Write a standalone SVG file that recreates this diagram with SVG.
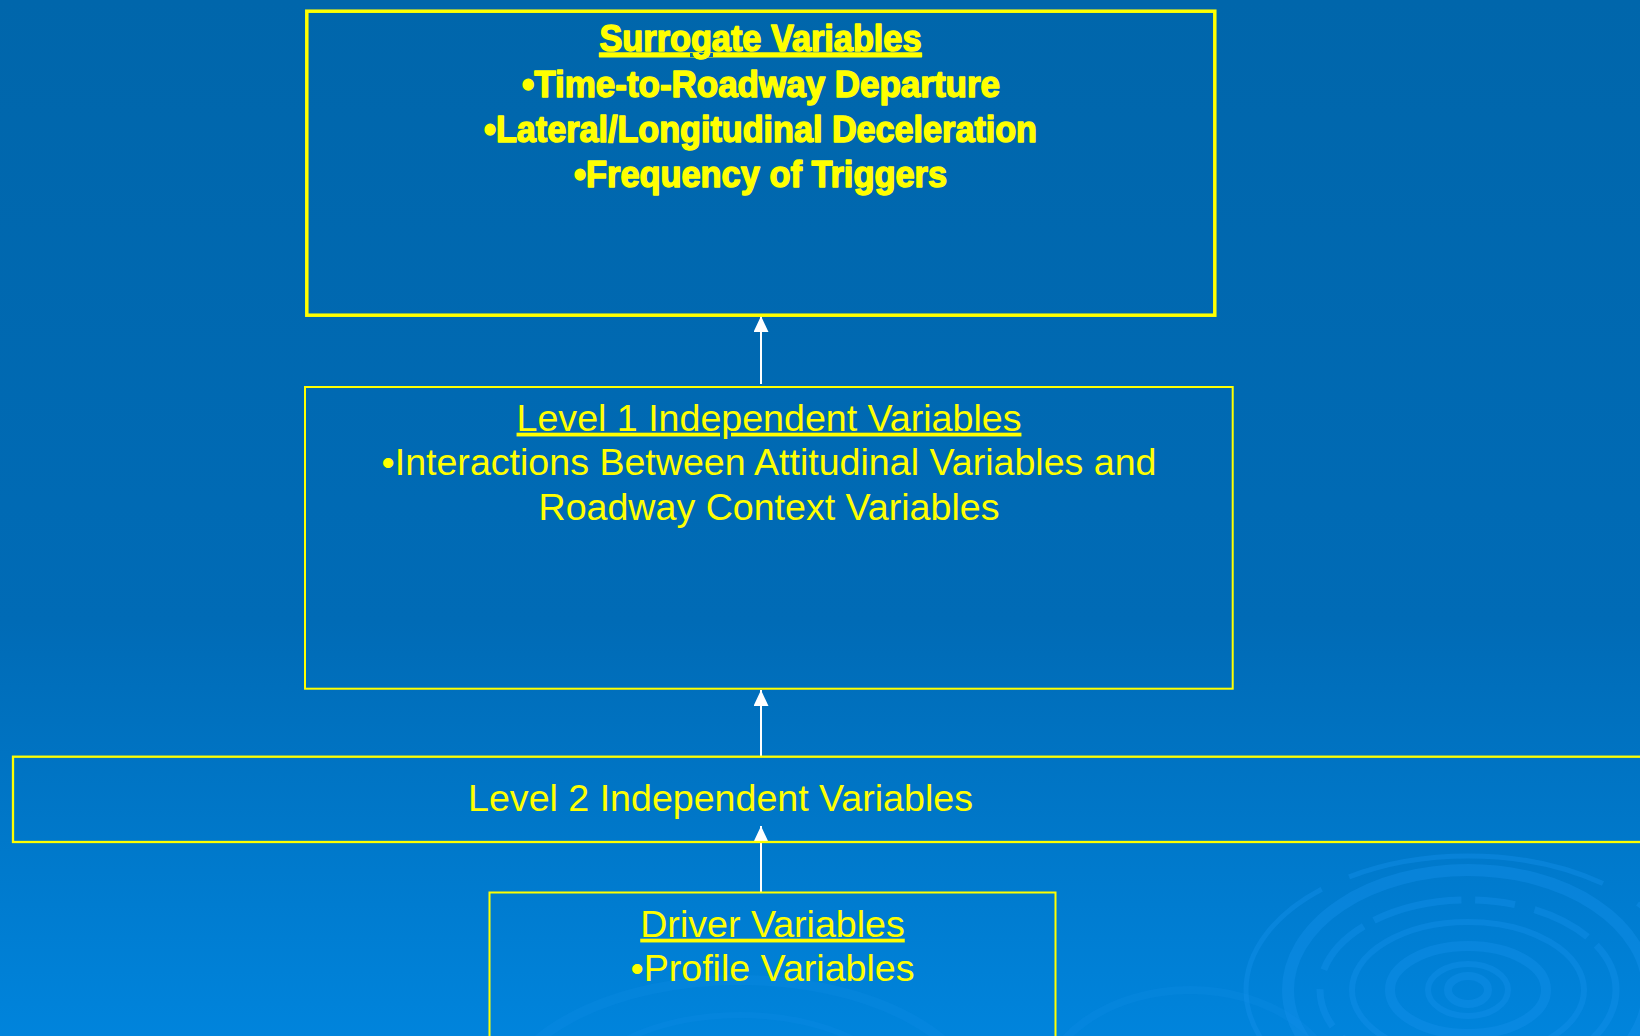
<svg xmlns="http://www.w3.org/2000/svg" width="1640" height="1036" viewBox="0 0 1640 1036">
  <defs>
    <linearGradient id="bg" x1="0" y1="0" x2="0" y2="1">
      <stop offset="0" stop-color="#0066ab"/>
      <stop offset="0.6" stop-color="#006bb6"/>
      <stop offset="1" stop-color="#0084dc"/>
    </linearGradient>
    <marker id="arrow" markerUnits="userSpaceOnUse" markerWidth="16" markerHeight="15" refX="16" refY="7.5" orient="auto">
      <path d="M0,0 L16,7.5 L0,15 Z" fill="#ffffff"/>
    </marker>
    <style>
      .box { fill: none; stroke: #ffff00; }
      .t { font-family: "Liberation Sans", Arial, sans-serif; fill: #ffff00; text-anchor: middle; font-size: 37.6px; }
      .tb { font-size: 37px; font-weight: bold; stroke: #ffff00; stroke-width: 1.5; stroke-linejoin: round; }
      .u { text-decoration: underline; }
      .ring { fill: none; stroke: #1590ea; stroke-opacity: 0.4; }
      .faint { fill: none; stroke: #1590ea; stroke-opacity: 0.2; }
      .link { stroke: #ffffff; stroke-width: 2; fill: none; }
    </style>
  </defs>

  <!-- background -->
  <rect x="0" y="0" width="1640" height="1036" fill="url(#bg)"/>

  <!-- decorative ripple rings, lower right -->
  <g id="ripples">
    <ellipse class="ring" cx="1468" cy="990" rx="20" ry="14" stroke-width="8"/>
    <ellipse class="ring" cx="1468" cy="990" rx="40" ry="26" stroke-width="6"/>
    <ellipse class="ring" cx="1468" cy="990" rx="78" ry="44" stroke-width="10"/>
    <ellipse class="ring" cx="1468" cy="990" rx="116" ry="68" stroke-width="6"/>
    <ellipse class="ring" cx="1468" cy="990" rx="148" ry="90" stroke-width="7" stroke-dasharray="90 14 40 20 60 12"/>
    <ellipse class="ring" cx="1468" cy="990" rx="180" ry="120" stroke-width="12"/>
    <ellipse class="ring" cx="1468" cy="990" rx="222" ry="134" stroke-width="5" stroke-dasharray="260 40 400 30"/>
    <!-- faint rings, lower middle -->
    <ellipse class="faint" cx="740" cy="1110" rx="240" ry="130" stroke-width="10"/>
    <ellipse class="faint" cx="740" cy="1110" rx="170" ry="95" stroke-width="6"/>
    <ellipse class="faint" cx="1190" cy="1100" rx="150" ry="110" stroke-width="8"/>
  </g>

  <!-- connectors -->
  <g id="connectors">
    <line class="link" x1="761" y1="384" x2="761" y2="316" marker-end="url(#arrow)"/>
    <line class="link" x1="761" y1="756" x2="761" y2="690" marker-end="url(#arrow)"/>
    <line class="link" x1="761" y1="892" x2="761" y2="826" marker-end="url(#arrow)"/>
  </g>

  <!-- surrogate variables -->
  <g id="surrogate">
    <rect class="box" x="306.8" y="11.2" width="908" height="304" stroke-width="3.5"/>
    <text class="t tb u" x="760.5" y="51" textLength="322" lengthAdjust="spacingAndGlyphs">Surrogate Variables</text>
    <text class="t tb" x="761" y="96.5" textLength="478" lengthAdjust="spacingAndGlyphs">•Time-to-Roadway Departure</text>
    <text class="t tb" x="760.5" y="141.5" textLength="553" lengthAdjust="spacingAndGlyphs">•Lateral/Longitudinal Deceleration</text>
    <text class="t tb" x="760.5" y="186.5" textLength="373" lengthAdjust="spacingAndGlyphs">•Frequency of Triggers</text>
  </g>

  <!-- level 1 independent variables -->
  <g id="level1">
    <rect class="box" x="305" y="387" width="927.7" height="301.7" stroke-width="2"/>
    <text class="t u" x="769" y="430.7">Level 1 Independent Variables</text>
    <text class="t" x="769" y="475">•Interactions Between Attitudinal Variables and</text>
    <text class="t" x="769" y="519.5">Roadway Context Variables</text>
  </g>

  <!-- level 2 independent variables -->
  <g id="level2">
    <rect class="box" x="13" y="756.7" width="1650" height="85.3" stroke-width="2.3"/>
    <text class="t" x="720.5" y="811">Level 2 Independent Variables</text>
  </g>

  <!-- driver variables -->
  <g id="driver">
    <rect class="box" x="489.5" y="892.5" width="566" height="170" stroke-width="2"/>
    <text class="t u" x="772.5" y="936.7">Driver Variables</text>
    <text class="t" x="772.5" y="981">•Profile Variables</text>
  </g>
</svg>
